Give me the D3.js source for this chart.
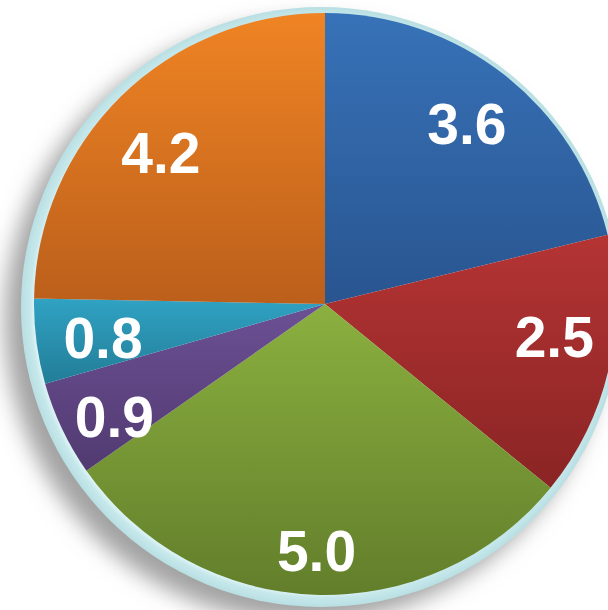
<!DOCTYPE html>
<html>
<head>
<meta charset="utf-8">
<script src="https://cdn.jsdelivr.net/npm/d3@7"></script>
<style>
  html, body { margin: 0; padding: 0; background: #fff; }
  svg { display: block; }
  .slice-label { font-family: "Liberation Sans", Arial, sans-serif; font-weight: bold; fill: #fff; }
</style>
</head>
<body>
<div id="chart"></div>
<script>
const categories = ['A', 'B', 'C', 'D', 'E', 'F'];
const values = [3.6, 2.5, 5.0, 0.9, 0.8, 4.2];
const labels = ['3.6', '2.5', '5.0', '0.9', '0.8', '4.2'];
const topColors = ['#3772b8', '#b53434', '#8bb03f', '#6c5095', '#30a2c3', '#f08424'];
const bottomColors = ['#295590', '#8a2424', '#627e2b', '#513a70', '#227d98', '#bb5f1b'];

const width = 608;
const height = 610;
const cx = 325;
const cy = 304;
const radius = 291;

const svg = d3.select('#chart')
  .append('svg')
    .attr('width', width)
    .attr('height', height);

const defs = svg.append('defs');

defs.append('filter')
    .attr('id', 'shadow-blur')
    .attr('x', '-20%')
    .attr('y', '-20%')
    .attr('width', '140%')
    .attr('height', '140%')
  .append('feGaussianBlur')
    .attr('stdDeviation', 11);

categories.forEach((c, i) => {
  const grad = defs.append('linearGradient')
    .attr('id', 'grad-' + i)
    .attr('x1', 0).attr('y1', 0)
    .attr('x2', 0).attr('y2', 1);
  grad.append('stop').attr('offset', '0%').attr('stop-color', topColors[i]);
  grad.append('stop').attr('offset', '100%').attr('stop-color', bottomColors[i]);
});

const ringGrad = defs.append('radialGradient')
    .attr('id', 'ring-grad')
    .attr('gradientUnits', 'userSpaceOnUse')
    .attr('cx', cx - 4).attr('cy', cy + 3)
    .attr('r', radius + 9);
ringGrad.append('stop').attr('offset', '95%').attr('stop-color', '#e6f7f9');
ringGrad.append('stop').attr('offset', '97%').attr('stop-color', '#c6e8eb');
ringGrad.append('stop').attr('offset', '100%').attr('stop-color', '#b9dfe3');

// drop shadow
svg.append('circle')
    .attr('cx', cx - 20)
    .attr('cy', cy + 18)
    .attr('r', radius + 9)
    .attr('fill', '#a2a2a2')
    .attr('filter', 'url(#shadow-blur)');

// bevel ring
svg.append('circle')
    .attr('cx', cx - 4)
    .attr('cy', cy + 3)
    .attr('r', radius + 9)
    .attr('fill', 'url(#ring-grad)');

const pie = d3.pie()
  .sort(null)
  .value(d => d);

const arcs = pie(values);

const arc = d3.arc()
  .innerRadius(0)
  .outerRadius(radius);

const labelArc = d3.arc()
  .innerRadius(radius * 0.79)
  .outerRadius(radius * 0.79);

const g = svg.append('g')
    .attr('transform', `translate(${cx}, ${cy})`);

g.selectAll('path.slice')
  .data(arcs)
  .enter()
  .append('path')
    .attr('class', 'slice')
    .attr('d', arc)
    .attr('fill', (d, i) => `url(#grad-${i})`);

// nudges to mimic best-fit label placement
const labelOffsets = [[0, 0], [5, -18], [0, 17], [-3, 14], [6, 4], [-3, 13]];

g.selectAll('text.slice-label')
  .data(arcs)
  .enter()
  .append('text')
    .attr('class', 'slice-label')
    .attr('text-anchor', 'middle')
    .attr('dy', '0.36em')
    .attr('font-size', 57)
    .attr('x', (d, i) => labelArc.centroid(d)[0] + labelOffsets[i][0])
    .attr('y', (d, i) => labelArc.centroid(d)[1] + labelOffsets[i][1])
    .text((d, i) => labels[i]);
</script>
</body>
</html>
